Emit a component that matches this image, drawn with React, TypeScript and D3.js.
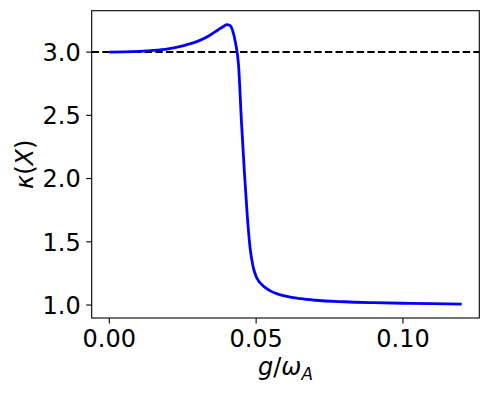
import React from "react";
import * as d3 from "d3";

const gValues = [0, 0.005, 0.01, 0.015, 0.02, 0.025, 0.028, 0.031, 0.034, 0.037, 0.039, 0.04, 0.041, 0.042, 0.043, 0.044, 0.045, 0.046, 0.047, 0.048, 0.049, 0.05, 0.051, 0.052, 0.053, 0.055, 0.057, 0.06, 0.065, 0.07, 0.08, 0.09, 0.1, 0.11, 0.12];
const kappaValues = [3.0, 3.002, 3.006, 3.013, 3.026, 3.05, 3.069, 3.095, 3.13, 3.175, 3.205, 3.217, 3.212, 3.17, 3.07, 2.9, 2.45, 2.05, 1.7, 1.44, 1.3, 1.225, 1.185, 1.16, 1.14, 1.11, 1.09, 1.07, 1.05, 1.038, 1.026, 1.019, 1.014, 1.011, 1.008];
const referenceLevel = 3.0;
const xTicks = [0.0, 0.05, 0.1];
const yTicks = [1.0, 1.5, 2.0, 2.5, 3.0];

const W = 488, H = 394;
const left = 91.7, right = 479.3, top = 10.7, bottom = 318;
const font = "DejaVu Sans, sans-serif";
const fs = 24;

export default function App() {
  const xMin = d3.min(gValues)!, xMax = d3.max(gValues)!;
  const yMin = d3.min(kappaValues)!, yMax = d3.max(kappaValues)!;
  const xPad = (xMax - xMin) * 0.05, yPad = (yMax - yMin) * 0.05;
  const x = d3.scaleLinear().domain([xMin - xPad, xMax + xPad]).range([left, right]);
  const y = d3.scaleLinear().domain([yMin - yPad, yMax + yPad]).range([bottom, top]);
  const data = gValues.map((g, i) => [g, kappaValues[i]] as [number, number]);
  const line = d3.line<[number, number]>().x(d => x(d[0])).y(d => y(d[1])).curve(d3.curveMonotoneX);

  return (
    <svg width={W} height={H} style={{ position: "absolute", left: 0, top: 0, background: "#fff" }}>
      <rect x={0} y={0} width={W} height={H} fill="#fff" />
      <line x1={left} x2={right} y1={y(referenceLevel)} y2={y(referenceLevel)} stroke="#000" strokeWidth={2} strokeDasharray="7.4,3.2" />
      <path d={line(data)!} fill="none" stroke="#0000ff" strokeWidth={2.8} strokeLinejoin="round" strokeLinecap="butt" />
      <rect x={left} y={top} width={right - left} height={bottom - top} fill="none" stroke="#000" strokeWidth={1.1} />
      {xTicks.map(t => (
        <g key={"x" + t}>
          <line x1={x(t)} x2={x(t)} y1={bottom} y2={bottom + 5.5} stroke="#000" strokeWidth={1.1} />
          <text x={x(t)} y={bottom + 28.7} textAnchor="middle" fontFamily={font} fontSize={fs} fill="#000">{t.toFixed(2)}</text>
        </g>
      ))}
      {yTicks.map(t => (
        <g key={"y" + t}>
          <line x1={left - 5.5} x2={left} y1={y(t)} y2={y(t)} stroke="#000" strokeWidth={1.1} />
          <text x={left - 11} y={y(t) + 8.7} textAnchor="end" fontFamily={font} fontSize={fs} fill="#000">{t.toFixed(1)}</text>
        </g>
      ))}
      <text x={(left + right) / 2} y={375} textAnchor="middle" fontFamily={font} fontSize={fs} fill="#000">
        <tspan fontStyle="italic">g</tspan>
        <tspan>/</tspan>
        <tspan fontStyle="italic">ω</tspan>
        <tspan fontStyle="italic" fontSize={16.8} dy={5}>A</tspan>
      </text>
      <text transform={`translate(33, ${(top + bottom) / 2}) rotate(-90)`} textAnchor="middle" fontFamily={font} fontSize={fs} fill="#000">
        <tspan fontStyle="italic">κ</tspan>
        <tspan>(</tspan>
        <tspan fontStyle="italic">X</tspan>
        <tspan>)</tspan>
      </text>
    </svg>
  );
}
